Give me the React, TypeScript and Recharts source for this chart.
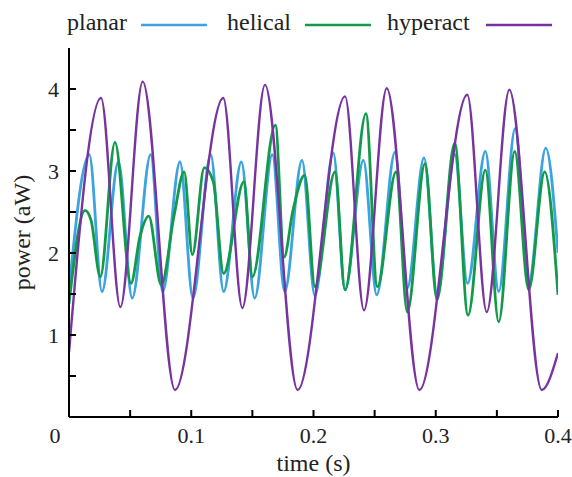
import React from 'react';
import { LineChart, Line, XAxis, YAxis, Legend, Label } from 'recharts';

// values: peaks, troughs and a few shoulders (time in s, power in aW)
const planarTime = [
  0, 0.0166, 0.027, 0.0404, 0.0517, 0.0668, 0.0766, 0.0908, 0.1014, 0.1159, 0.1265,
  0.141, 0.1519, 0.1663, 0.1764, 0.1906, 0.2011, 0.2162, 0.2258, 0.2408, 0.2517,
  0.2667, 0.2767, 0.2904, 0.3012, 0.3155, 0.326, 0.3406, 0.3515, 0.365, 0.376, 0.39, 0.4,
];
const planarPower = [
  1.55, 3.2, 1.53, 3.11, 1.45, 3.2, 1.53, 3.11, 1.45, 3.2, 1.53,
  3.11, 1.45, 3.2, 1.53, 3.13, 1.48, 3.22, 1.55, 3.13, 1.49,
  3.23, 1.57, 3.16, 1.5, 3.2, 1.63, 3.24, 1.53, 3.52, 1.63, 3.28, 2.0,
];

const helicalTime = [
  0, 0.0131, 0.018, 0.0256, 0.0376, 0.0507, 0.058, 0.0652, 0.0755, 0.086, 0.0942,
  0.1009, 0.1107, 0.118, 0.1265, 0.1431, 0.15, 0.1688, 0.1759, 0.1832, 0.1928,
  0.2012, 0.2176, 0.2258, 0.2429, 0.2522, 0.2675, 0.2767, 0.2912, 0.301, 0.3155,
  0.3264, 0.3406, 0.3515, 0.3646, 0.376, 0.3891, 0.4,
];
const helicalPower = [
  1.38, 2.52, 2.4, 1.71, 3.35, 1.63, 2.2, 2.45, 1.61, 2.46, 2.99,
  1.98, 3.04, 2.87, 1.75, 2.87, 1.71, 3.56, 1.95, 2.52, 2.95,
  1.59, 2.99, 1.55, 3.7, 1.59, 2.99, 1.28, 3.09, 1.43, 3.34,
  1.24, 3.01, 1.16, 3.24, 1.55, 2.99, 1.49,
];

const hyperactTime = [
  0, 0.0262, 0.042, 0.0603, 0.0867, 0.1262, 0.1418, 0.1603, 0.187,
  0.2258, 0.2413, 0.2599, 0.2866, 0.3258, 0.3417, 0.3602, 0.3867, 0.4,
];
const hyperactPower = [
  0.79, 3.89, 1.34, 4.09, 0.33, 3.89, 1.33, 4.05, 0.33,
  3.91, 1.3, 4.01, 0.33, 3.93, 1.28, 3.99, 0.33, 0.78,
];

const xTicks = [0, 0.05, 0.1, 0.15, 0.2, 0.25, 0.3, 0.35, 0.4];
const xTickLabels = ['0', '', '0.1', '', '0.2', '', '0.3', '', '0.4'];
const yTicks = [0.5, 1, 1.5, 2, 2.5, 3, 3.5, 4];
const yTickLabels = ['', '1', '', '2', '', '3', '', '4'];

const seriesNames = ['planar', 'helical', 'hyperact'];
const seriesColors = ['#3ba3df', '#129a4a', '#7733a0'];

const toPoints = (ts: number[], vs: number[]) => ts.map((t, i) => ({ t, power: vs[i] }));

const planarData = toPoints(planarTime, planarPower);
const helicalData = toPoints(helicalTime, helicalPower);
const hyperactData = toPoints(hyperactTime, hyperactPower);

const serif = { fontFamily: "'Liberation Serif', 'DejaVu Serif', serif" };
const INK = '#222';

const findLabel = (ticks: number[], labels: string[], v: number) => {
  const i = ticks.findIndex((t) => Math.abs(t - v) < 1e-9);
  return i < 0 ? '' : labels[i];
};

const XTick = (props: any) => {
  const { x, y, payload } = props;
  const text = findLabel(xTicks, xTickLabels, payload.value);
  if (!text) return <g />;
  // the corner "0" is shared with the y axis, so it sits left of the frame
  const dx = payload.value === 0 ? -14 : 0;
  return (
    <text x={x + dx} y={y} dy="0.71em" textAnchor="middle" fill={INK} fontSize={22} style={serif}>
      {text}
    </text>
  );
};

const YTick = (props: any) => {
  const { x, y, payload } = props;
  const text = findLabel(yTicks, yTickLabels, payload.value);
  if (!text) return <g />;
  return (
    <text x={x} y={y} dy="0.35em" textAnchor="end" fill={INK} fontSize={22} style={serif}>
      {text}
    </text>
  );
};

const NoTick = () => <g />;

const LegendRow = () => {
  const textX = [67, 227, 387];
  const lineX = [141, 305, 486];
  return (
    <div style={{ position: 'relative', height: 0 }}>
      <svg width={572} height={45} style={{ position: 'absolute', left: 0, top: 0, overflow: 'visible' }}>
        {seriesNames.map((name, i) => (
          <g key={name}>
            <text x={textX[i]} y={30} fill={INK} fontSize={24} style={serif}>
              {name}
            </text>
            <line x1={lineX[i]} x2={lineX[i] + 66} y1={25} y2={25} stroke={seriesColors[i]} strokeWidth={2.5} />
          </g>
        ))}
      </svg>
    </div>
  );
};

const frame = { stroke: '#000', strokeWidth: 2 };

export default function App() {
  return (
    <div style={{ position: 'absolute', left: 0, top: 0, width: 572, height: 477, background: '#fff' }}>
      <LineChart width={572} height={477} margin={{ top: 48, right: 14, bottom: 0, left: 0 }}>
        <XAxis
          dataKey="t"
          type="number"
          domain={[0, 0.4]}
          ticks={xTicks}
          allowDataOverflow
          height={60}
          axisLine={frame}
          tickLine={frame}
          tickSize={-7}
          tickMargin={17}
          tick={<XTick />}
          interval={0}
        >
          <Label
            content={(p: any) => {
              const vb = p.viewBox || { x: 69, y: 417, width: 489, height: 60 };
              return (
                <text x={vb.x + vb.width / 2} y={vb.y + vb.height - 6} textAnchor="middle" fill={INK} fontSize={24} style={serif}>
                  time (s)
                </text>
              );
            }}
          />
        </XAxis>
        <XAxis
          xAxisId="top"
          orientation="top"
          type="number"
          domain={[0, 0.4]}
          ticks={xTicks}
          allowDataOverflow
          height={0}
          axisLine={frame}
          tickLine={frame}
          tickSize={-7}
          tick={<NoTick />}
          interval={0}
        />
        <YAxis
          type="number"
          domain={[0, 4.5]}
          ticks={yTicks}
          allowDataOverflow
          width={69}
          axisLine={frame}
          tickLine={frame}
          tickSize={-7}
          tickMargin={17}
          tick={<YTick />}
          interval={0}
        >
          <Label
            content={(p: any) => {
              const vb = p.viewBox || { x: 0, y: 48, width: 69, height: 369 };
              const cx = 30;
              const cy = vb.y + vb.height / 2;
              return (
                <text
                  x={cx}
                  y={cy}
                  transform={`rotate(-90 ${cx} ${cy})`}
                  textAnchor="middle"
                  fill={INK}
                  fontSize={24}
                  style={serif}
                >
                  power (aW)
                </text>
              );
            }}
          />
        </YAxis>
        <YAxis
          yAxisId="right"
          orientation="right"
          type="number"
          domain={[0, 4.5]}
          ticks={yTicks}
          allowDataOverflow
          width={0}
          axisLine={frame}
          tickLine={frame}
          tickSize={-7}
          tick={<NoTick />}
          interval={0}
        />
        <Legend content={<LegendRow />} verticalAlign="top" wrapperStyle={{ top: 0, left: 0, width: 572 }} />
        <Line
          data={planarData}
          dataKey="power"
          name={seriesNames[0]}
          type="monotone"
          stroke={seriesColors[0]}
          strokeWidth={2.8}
          dot={false}
          activeDot={false}
          isAnimationActive={false}
        />
        <Line
          data={helicalData}
          dataKey="power"
          name={seriesNames[1]}
          type="monotone"
          stroke={seriesColors[1]}
          strokeWidth={2.8}
          dot={false}
          activeDot={false}
          isAnimationActive={false}
        />
        <Line
          data={hyperactData}
          dataKey="power"
          name={seriesNames[2]}
          type="monotone"
          stroke={seriesColors[2]}
          strokeWidth={2.4}
          dot={false}
          activeDot={false}
          isAnimationActive={false}
        />
      </LineChart>
    </div>
  );
}
